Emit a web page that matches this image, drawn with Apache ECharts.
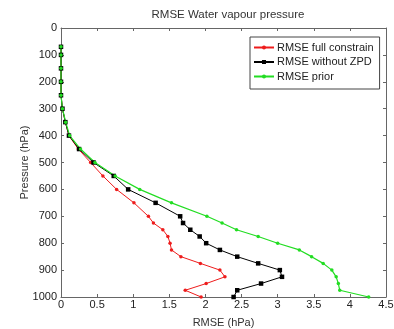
<!DOCTYPE html>
<html>
<head>
<meta charset="utf-8">
<script src="https://cdn.jsdelivr.net/npm/echarts@6/dist/echarts.min.js"></script>
<style>
  html, body { margin: 0; padding: 0; background: #fff; }
  #chart { width: 394px; height: 329px; }
</style>
</head>
<body>
<div id="chart"></div>
<script>
// pressure levels (hPa) and RMSE values (hPa)
const pressure = [70, 100, 150, 200, 250, 300, 350, 400, 450, 500, 550, 600, 650, 700,
  725, 750, 775, 800, 825, 850, 875, 900, 925, 950, 975, 1000];
const rmseFull = [0, 0, 0, 0, 0, 0.02, 0.06, 0.11, 0.24, 0.41, 0.58, 0.77, 1.01, 1.21,
  1.28, 1.41, 1.48, 1.51, 1.53, 1.66, 1.93, 2.20, 2.27, 2.01, 1.72, 1.94];
const rmseNoZpd = [0, 0, 0, 0, 0, 0.02, 0.06, 0.11, 0.25, 0.45, 0.73, 0.93, 1.31, 1.65,
  1.69, 1.79, 1.92, 2.01, 2.20, 2.44, 2.73, 3.03, 3.06, 2.77, 2.44, 2.39];
const rmsePrior = [0, 0, 0, 0, 0, 0.02, 0.065, 0.12, 0.27, 0.47, 0.75, 1.09, 1.53, 2.02,
  2.23, 2.43, 2.73, 3.00, 3.30, 3.47, 3.63, 3.75, 3.81, 3.84, 3.86, 4.26];
const seriesNames = ['RMSE full constrain', 'RMSE without ZPD', 'RMSE prior'];

const font = 'Liberation Sans, Arial, sans-serif';
const axisColor = '#666';

const pairs = vals => vals.map((v, i) => [v, pressure[i]]);

const chart = echarts.init(document.getElementById('chart'));

const boxAxis = {
  axisLine: { show: true, onZero: false, lineStyle: { color: axisColor, width: 1 } },
  axisTick: { show: true, inside: true, length: 3, lineStyle: { color: axisColor } },
  splitLine: { show: false }
};

const option = {
  animation: false,
  backgroundColor: '#fff',
  title: {
    text: 'RMSE Water vapour pressure',
    left: 223,
    textAlign: 'center',
    top: 4,
    textStyle: { fontFamily: font, fontSize: 11.5, fontWeight: 'normal', color: '#333' }
  },
  legend: {
    orient: 'vertical',
    left: 250,
    top: 37,
    padding: [5, 6, 7, 3],
    itemGap: 3.5,
    itemWidth: 20,
    itemHeight: 5,
    borderColor: '#444',
    borderWidth: 1,
    backgroundColor: '#fff',
    data: seriesNames,
    textStyle: { fontFamily: font, fontSize: 11, color: '#222', padding: [0, 0, 0, -2] }
  },
  grid: { left: 61, right: 8, top: 28, bottom: 32, outerBoundsMode: 'none' },
  xAxis: [
    Object.assign({}, boxAxis, {
      type: 'value', min: 0, max: 4.5, interval: 0.5, position: 'bottom',
      name: 'RMSE (hPa)', nameLocation: 'middle', nameGap: 20,
      nameTextStyle: { fontFamily: font, fontSize: 11, color: '#333' },
      axisLabel: { fontFamily: font, fontSize: 11, color: '#222', margin: 2 }
    }),
    Object.assign({}, boxAxis, {
      type: 'value', min: 0, max: 4.5, interval: 0.5, position: 'top',
      axisLabel: { show: false }
    })
  ],
  yAxis: [
    Object.assign({}, boxAxis, {
      type: 'value', min: 0, max: 1000, interval: 100, inverse: true, position: 'left',
      name: 'Pressure (hPa)', nameLocation: 'middle', nameGap: 31, nameMoveOverlap: false,
      nameTextStyle: { fontFamily: font, fontSize: 11, color: '#333' },
      axisLabel: { fontFamily: font, fontSize: 11, color: '#222', margin: 4,
        formatter: v => String(v) }
    }),
    Object.assign({}, boxAxis, {
      type: 'value', min: 0, max: 1000, interval: 100, inverse: true, position: 'right',
      axisLabel: { show: false }
    })
  ],
  series: [
    {
      name: seriesNames[0], type: 'line', data: pairs(rmseFull),
      symbol: 'circle', symbolSize: 3.5, color: '#ee1c1c',
      lineStyle: { width: 1, color: '#ee1c1c' }, itemStyle: { color: '#ee1c1c' }
    },
    {
      name: seriesNames[1], type: 'line', data: pairs(rmseNoZpd),
      symbol: 'rect', symbolSize: 4.5, color: '#000',
      lineStyle: { width: 1, color: '#000' }, itemStyle: { color: '#000' }
    },
    {
      name: seriesNames[2], type: 'line', data: pairs(rmsePrior),
      symbol: 'circle', symbolSize: 3.5, color: '#22dd22',
      lineStyle: { width: 1.2, color: '#22dd22' }, itemStyle: { color: '#22dd22' }
    }
  ]
};

chart.setOption(option);
</script>
</body>
</html>
